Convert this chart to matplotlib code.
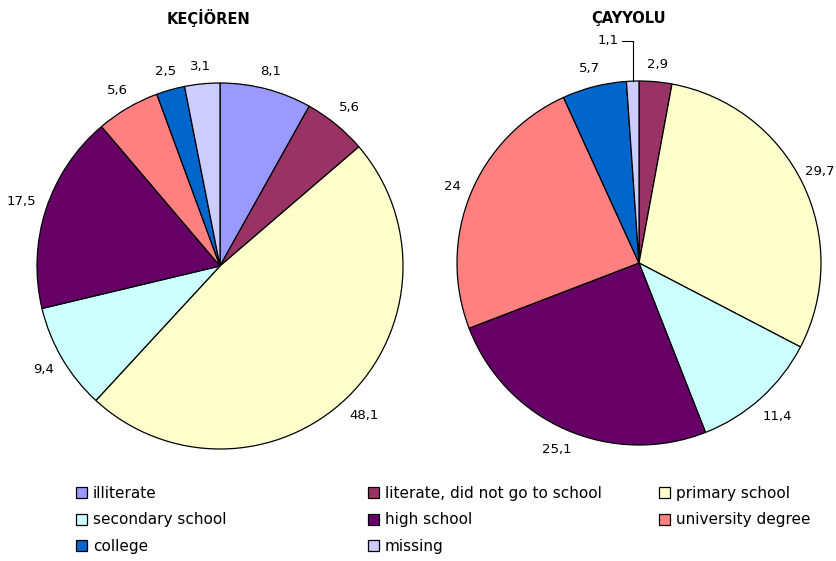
import numpy as np
import matplotlib
matplotlib.use("Agg")
import matplotlib.pyplot as plt
from matplotlib.patches import Patch

categories = ["illiterate", "literate, did not go to school", "primary school",
              "secondary school", "high school", "university degree",
              "college", "missing"]
colors = ["#9999FF", "#993366", "#FFFFCC", "#CCFFFF", "#660066", "#FF8080",
          "#0066CC", "#CCCCFF"]

kecioren = [8.1, 5.6, 48.1, 9.4, 17.5, 5.6, 2.5, 3.1]
cayyolu = [0, 2.9, 29.7, 11.4, 25.1, 24, 5.7, 1.1]

W, H = 837, 561


def fmt(v):
    return f"{v:g}".replace(".", ",")


def draw_pie(cx, cy, r, values, title, title_x):
    ax = fig.add_axes([(cx - r) / W, (H - cy - r) / H, 2 * r / W, 2 * r / H])
    wedges, _ = ax.pie(values, colors=colors, startangle=90, counterclock=False,
                       radius=1, wedgeprops=dict(edgecolor="black", linewidth=0.9))
    ax.set_xlim(-1, 1)
    ax.set_ylim(-1, 1)
    ax.set_aspect("equal")
    ax.axis("off")
    renderer = fig.canvas.get_renderer()
    for w, v in zip(wedges, values):
        if v <= 0:
            continue
        ang = np.deg2rad((w.theta1 + w.theta2) / 2)
        c, s = np.cos(ang), np.sin(ang)
        if v < 2:
            # thin slice: label lifted above the pie with a leader line
            ty = 1.22
            ax.plot([c, c, c - 0.06], [s, ty, ty], color="black", lw=0.8,
                    clip_on=False)
            ax.text(c - 0.075, ty, fmt(v), ha="right", va="center", fontsize=9.5)
            continue
        t = ax.text(0, 0, fmt(v), ha="center", va="center", fontsize=9.5)
        bb = t.get_window_extent(renderer=renderer)
        hw, hh = bb.width / 2, 6
        dist = (r + 10 + abs(c) * hw + abs(s) * hh) / r
        x = dist * c
        # keep labels inside the figure
        right_px = cx + x * r + hw
        if right_px > W - 2:
            x -= (right_px - (W - 2)) / r
        t.set_position((x, dist * s))
    fig.text(title_x / W, 1 - 18 / H, title, ha="center", va="center",
             fontsize=10.5, fontweight="bold")


fig = plt.figure(figsize=(W / 100, H / 100), dpi=100)
draw_pie(220, 266, 183, kecioren, "KEÇİÖREN", 209)
draw_pie(639, 263, 182, cayyolu, "ÇAYYOLU", 629)

handles = [Patch(facecolor=c, edgecolor="black", linewidth=0.9) for c in colors]
columns = [[0, 3, 6], [1, 4, 7], [2, 5]]
col_x = [76, 368, 659]
for idx, x in zip(columns, col_x):
    fig.legend([handles[i] for i in idx], [categories[i] for i in idx],
               loc="upper left", bbox_to_anchor=(x / W, 1 - 486 / H),
               frameon=False, handlelength=0.75, handleheight=0.75,
               handletextpad=0.35, labelspacing=0.75, borderpad=0,
               borderaxespad=0, fontsize=11)

fig.savefig("out.png", dpi=100)
